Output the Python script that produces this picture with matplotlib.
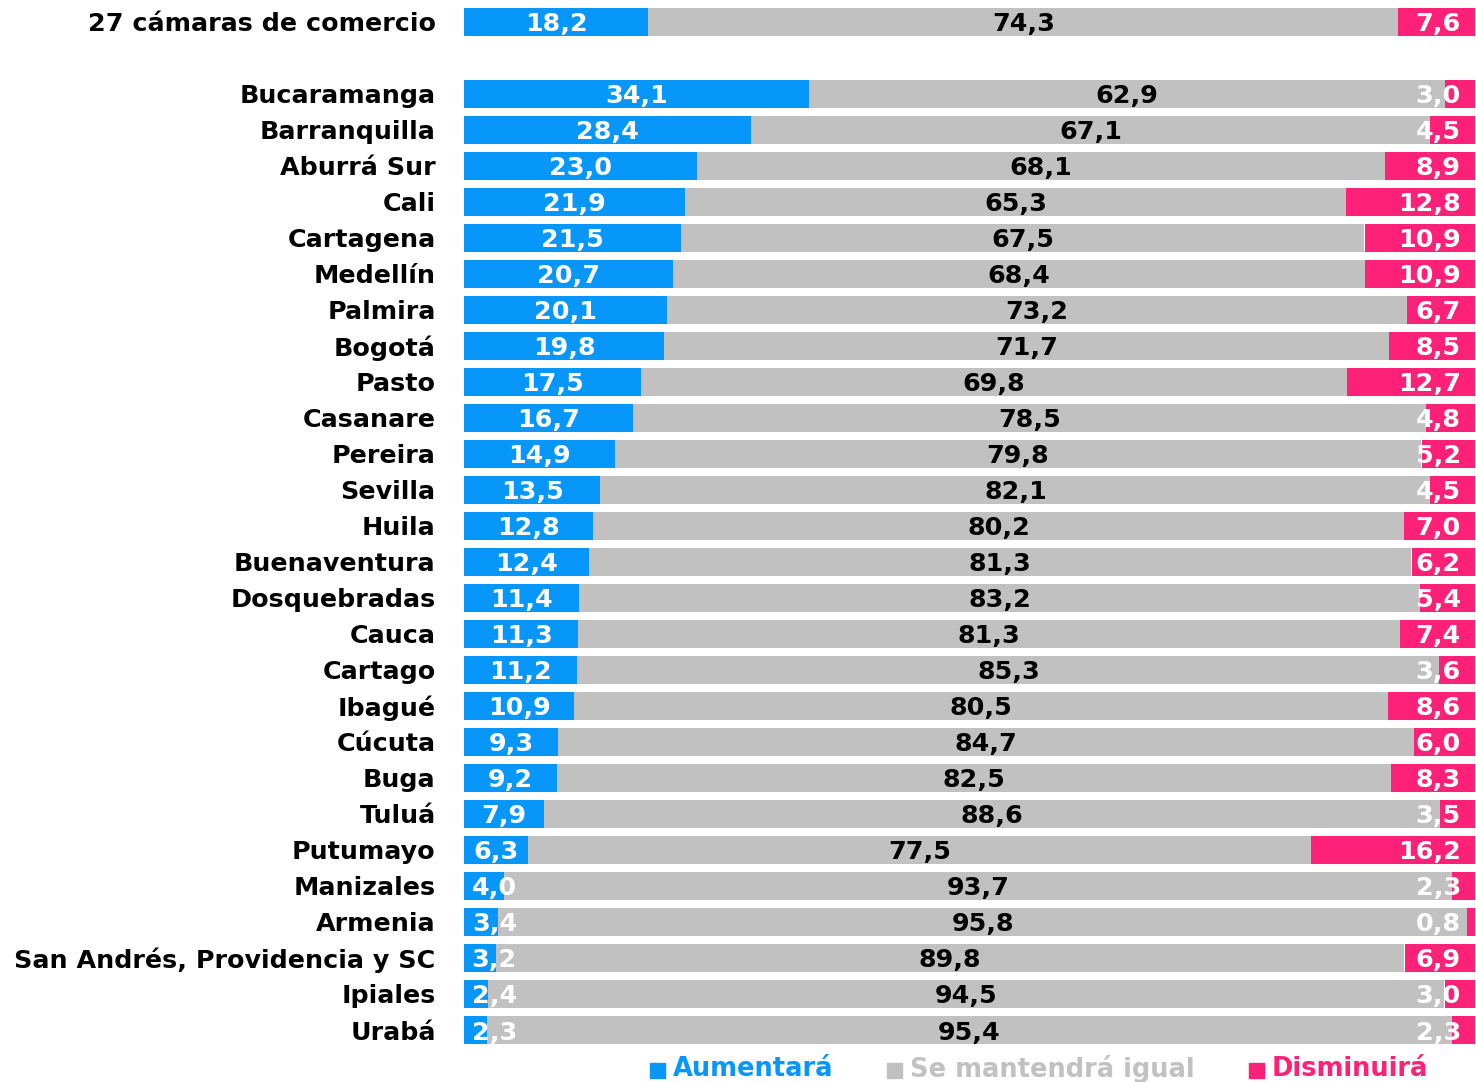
import matplotlib.pyplot as plt
from matplotlib.patches import Rectangle

# datos: porcentaje de empresas por expectativa
categorias = ["27 cámaras de comercio",
              "Bucaramanga", "Barranquilla", "Aburrá Sur", "Cali", "Cartagena",
              "Medellín", "Palmira", "Bogotá", "Pasto", "Casanare", "Pereira",
              "Sevilla", "Huila", "Buenaventura", "Dosquebradas", "Cauca",
              "Cartago", "Ibagué", "Cúcuta", "Buga", "Tuluá", "Putumayo",
              "Manizales", "Armenia", "San Andrés, Providencia y SC", "Ipiales",
              "Urabá"]
aumentara = [18.2, 34.1, 28.4, 23.0, 21.9, 21.5, 20.7, 20.1, 19.8, 17.5, 16.7,
             14.9, 13.5, 12.8, 12.4, 11.4, 11.3, 11.2, 10.9, 9.3, 9.2, 7.9, 6.3,
             4.0, 3.4, 3.2, 2.4, 2.3]
igual = [74.3, 62.9, 67.1, 68.1, 65.3, 67.5, 68.4, 73.2, 71.7, 69.8, 78.5, 79.8,
         82.1, 80.2, 81.3, 83.2, 81.3, 85.3, 80.5, 84.7, 82.5, 88.6, 77.5, 93.7,
         95.8, 89.8, 94.5, 95.4]
disminuira = [7.6, 3.0, 4.5, 8.9, 12.8, 10.9, 10.9, 6.7, 8.5, 12.7, 4.8, 5.2,
              4.5, 7.0, 6.2, 5.4, 7.4, 3.6, 8.6, 6.0, 8.3, 3.5, 16.2, 2.3, 0.8,
              6.9, 3.0, 2.3]
series = ["Aumentará", "Se mantendrá igual", "Disminuirá"]

AZUL = '#0797fb'
GRIS = '#c1c1c1'
ROSA = '#fe2177'
FUENTE = ['DejaVu Sans']
FS = 18.3

W, H = 1476, 1082
fig = plt.figure(figsize=(W / 100, H / 100), dpi=100)
ax = fig.add_axes([464 / W, 1 - 1051.6 / H, 1011 / W, 1051.6 / H])

# fila 0 sola, luego un hueco de una fila
pos = [0] + [i + 1 for i in range(1, len(categorias))]
dy = 0.07

for y, a, g, d in zip(pos, aumentara, igual, disminuira):
    ax.barh(y, a, height=0.78, color=AZUL, left=0)
    ax.barh(y, g, height=0.78, color=GRIS, left=a)
    ax.barh(y, d, height=0.78, color=ROSA, left=100 - d)
    kw = dict(va='center', color='white', fontsize=FS, fontweight='bold',
              family=FUENTE)
    ax.text(max(a / 2, 3.0), y + dy, f"{a:.1f}".replace('.', ','),
            ha='center', **kw)
    ax.text(a + g / 2, y + dy, f"{g:.1f}".replace('.', ','), ha='center',
            **dict(kw, color='black'))
    ax.text(98.6, y + dy, f"{d:.1f}".replace('.', ','), ha='right', **kw)

ax.set_xlim(0, 100)
ax.set_ylim(28.6, -0.6)
ax.axis('off')

for y, c in zip(pos, categorias):
    ax.text(-2.8, y + dy, c, ha='right', va='center', fontsize=FS,
            fontweight='bold', family=FUENTE, color='black')

# leyenda
ley_x = [650, 887, 1249]
for x, nombre, col in zip(ley_x, series, [AZUL, GRIS, ROSA]):
    fig.patches.append(Rectangle((x / W, 1 - 1078 / H), 15 / W, 15 / H,
                                 transform=fig.transFigure, color=col))
    fig.text((x + 23) / W, 1 - 1069 / H, nombre, ha='left', va='center',
             fontsize=18.5, fontweight='bold', family=FUENTE, color=col)

fig.savefig('out.png', dpi=100)
